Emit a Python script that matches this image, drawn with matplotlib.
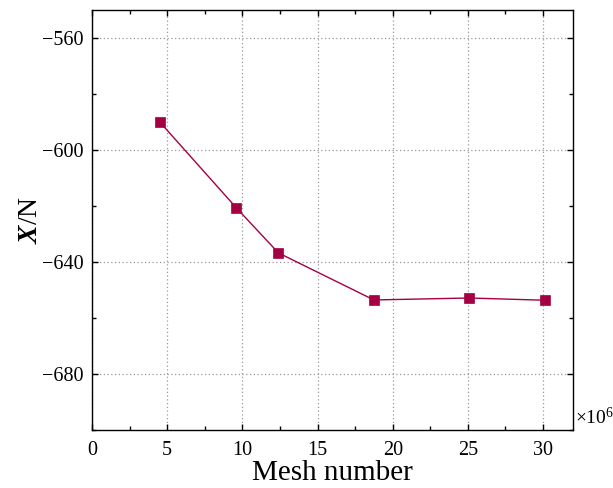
import matplotlib
matplotlib.use("Agg")
import matplotlib.pyplot as plt
from matplotlib.ticker import MultipleLocator

plt.rcParams['font.family'] = 'Liberation Serif'
plt.rcParams['mathtext.fontset'] = 'custom'
plt.rcParams['mathtext.rm'] = 'Liberation Serif'
plt.rcParams['mathtext.it'] = 'Liberation Serif:italic'
plt.rcParams['mathtext.bf'] = 'Liberation Serif:italic:bold'

# mesh number (x10^6) and force X in N
mesh = [4.5, 9.6, 12.4, 18.75, 25.1, 30.1]
force = [-590.0, -620.7, -636.8, -653.6, -652.9, -653.7]

col = '#A50044'

fig = plt.figure(figsize=(6.13, 4.88), dpi=100)
ax = fig.add_axes([0.150, 0.119, 0.785, 0.861])

ax.plot(mesh, force, color=col, lw=1.0, marker='s', ms=7,
        mfc=col, mec=col, mew=0.5)

ax.set_xlim(0, 32)
ax.set_ylim(-700, -550)
ax.xaxis.set_major_locator(MultipleLocator(5))
ax.xaxis.set_minor_locator(MultipleLocator(2.5))
ax.set_yticks([-560, -600, -640, -680])
ax.set_yticks([-580, -620, -660, -700], minor=True)

ax.tick_params(which='both', direction='in', top=True, right=True,
               labelsize=14.5, width=1.0)
ax.tick_params(axis='x', which='major', length=4, pad=8)
ax.tick_params(axis='y', which='major', length=4, pad=6)
ax.tick_params(which='minor', length=3)
ax.grid(True, which='major', ls=(0, (1, 2)), color='#999999', lw=0.9)

for s in ax.spines.values():
    s.set_linewidth(1.0)

ax.set_xlabel('Mesh number', fontsize=21, labelpad=0)
ax.set_ylabel(r'$\mathbf{X}$/N', fontsize=20, labelpad=-1)

ax.text(1.004, 0.005, r'$\times10^{6}$', transform=ax.transAxes,
        ha='left', va='bottom', fontsize=14)

fig.savefig('out.png', dpi=100)
